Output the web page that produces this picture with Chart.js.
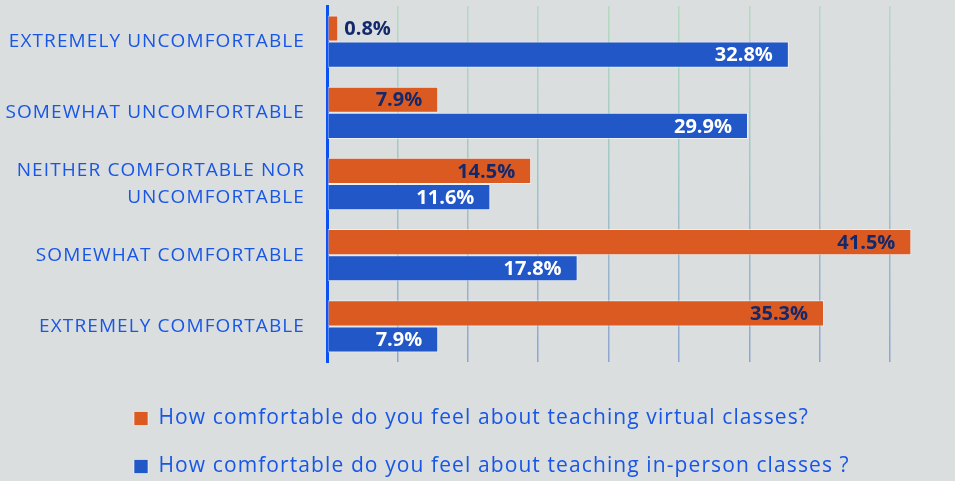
<!DOCTYPE html>
<html>
<head>
<meta charset="utf-8">
<script src="https://cdn.jsdelivr.net/npm/chart.js@4"></script>
<style>
  html, body { margin:0; padding:0; background:#dadedf; }
  #wrap { width:955px; height:481px; position:relative; }
</style>
</head>
<body>
<div id="wrap"><canvas id="c"></canvas></div>
<script>
const categories = [
  'EXTREMELY UNCOMFORTABLE',
  'SOMEWHAT UNCOMFORTABLE',
  ['NEITHER COMFORTABLE NOR', 'UNCOMFORTABLE'],
  'SOMEWHAT COMFORTABLE',
  'EXTREMELY COMFORTABLE'
];
const seriesNames = [
  'How comfortable do you feel about teaching virtual classes?',
  'How comfortable do you feel about teaching in-person classes ?'
];
const virtualVals = [0.8, 7.9, 14.5, 41.5, 35.3];
const inPersonVals = [32.8, 29.9, 11.6, 17.8, 7.9];

const ORANGE = '#da5a22', BLUE = '#2157c6', NAVY = '#13296b', TXT = '#1756e6';
const SPACING = '1.1px';

// wider letter spacing for axis/legend text (the source font is spaced out)
const spacing = {
  id: 'spacing',
  beforeLayout(chart) { chart.ctx.letterSpacing = SPACING; },
  beforeDraw(chart) { chart.ctx.letterSpacing = SPACING; }
};

const valueLabels = {
  id: 'valueLabels',
  afterDatasetsDraw(chart) {
    const ctx = chart.ctx;
    ctx.save();
    ctx.letterSpacing = '0px';
    ctx.font = 'bold 20px "Open Sans"';
    ctx.textBaseline = 'middle';
    chart.data.datasets.forEach((ds, di) => {
      chart.getDatasetMeta(di).data.forEach((bar, i) => {
        const txt = ds.data[i].toFixed(1) + '%';
        const w = ctx.measureText(txt).width;
        const len = bar.x - bar.base;
        if (len < w + 24) {
          ctx.textAlign = 'left';
          ctx.fillStyle = NAVY;
          ctx.fillText(txt, bar.x + 6, bar.y + 1);
        } else {
          ctx.textAlign = 'right';
          ctx.fillStyle = di === 0 ? NAVY : '#ffffff';
          ctx.fillText(txt, bar.x - 16, bar.y + 1);
        }
      });
    });
    ctx.restore();
    ctx.letterSpacing = SPACING;
  }
};

const legendShift = {
  id: 'legendShift',
  afterLayout(chart) {
    if (chart.legend) { chart.legend.left = 107; chart.legend.top += 6; }
  }
};

new Chart(document.getElementById('c'), {
  type: 'bar',
  data: {
    labels: categories,
    datasets: [
      { label: seriesNames[0], data: virtualVals, backgroundColor: ORANGE, borderColor: 'rgba(255,255,255,0.55)', borderWidth: 1, borderSkipped: false },
      { label: seriesNames[1], data: inPersonVals, backgroundColor: BLUE, borderColor: 'rgba(255,255,255,0.55)', borderWidth: 1, borderSkipped: false }
    ]
  },
  options: {
    indexAxis: 'y',
    responsive: true,
    maintainAspectRatio: false,
    animation: false,
    layout: { padding: { top: 6, left: 0, right: 0, bottom: 0 } },
    datasets: { bar: { categoryPercentage: 0.735, barPercentage: 1 } },
    plugins: {
      tooltip: { enabled: false },
      legend: {
        position: 'bottom',
        align: 'start',
        labels: { boxWidth: 14, boxHeight: 14, padding: 27, color: TXT, font: { family: 'Open Sans', size: 21 } }
      }
    },
    scales: {
      x: {
        min: 0, max: 44.6, z: 1,
        afterBuildTicks: s => { s.ticks = s.ticks.filter(t => t.value % 5 === 0); },
        afterFit: s => { s.height = 13; },
        ticks: { display: false, stepSize: 5 },
        border: { display: false },
        grid: {
          drawTicks: false,
          lineWidth: 1.5,
          color: c => {
            const a = c.chart.chartArea;
            if (!a || c.tick.value === 0) return 'rgba(0,0,0,0)';
            const g = c.chart.ctx.createLinearGradient(0, a.top, 0, a.bottom);
            g.addColorStop(0, 'rgba(150,215,165,0.55)');
            g.addColorStop(0.5, 'rgba(120,180,185,0.6)');
            g.addColorStop(1, 'rgba(110,140,205,0.7)');
            return g;
          }
        }
      },
      y: {
        z: 1,
        afterFit: s => { s.width = 327; s.paddingTop = 0; s.paddingBottom = 0; },
        border: { display: true, color: '#0b50f2', width: 3 },
        grid: { display: false, drawTicks: false },
        ticks: { color: TXT, padding: 22, font: { family: 'Open Sans', size: 19, lineHeight: 1.45 } }
      }
    }
  },
  plugins: [spacing, valueLabels, legendShift]
});
</script>
</body>
</html>
